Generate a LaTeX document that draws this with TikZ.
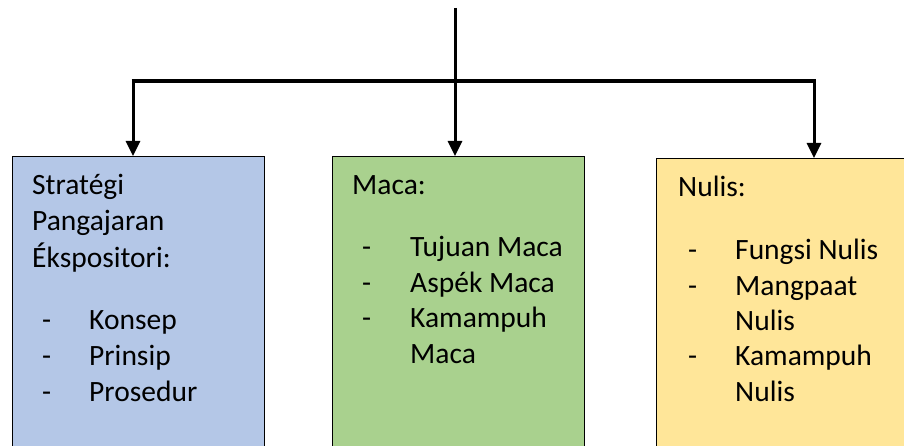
\documentclass[tikz,border=0pt]{standalone}
\usepackage{fontspec}
\setmainfont{Carlito}
\usetikzlibrary{arrows.meta}
\definecolor{boxblue}{HTML}{B4C7E7}
\definecolor{boxgreen}{HTML}{A9D18E}
\definecolor{boxyellow}{HTML}{FFE699}
\begin{document}
\begin{tikzpicture}[x=1pt,y=-1pt,
  box/.style={draw=black,line width=1.3pt,anchor=north west,inner sep=0pt},
  txt/.style={anchor=base west,inner sep=0pt,font=\fontsize{29.5}{35}\selectfont},
  conn/.style={line width=3pt,black},
  arr/.style={conn,-{Triangle[length=15pt,width=14pt]}},
]
\useasboundingbox (0,0) rectangle (904,446);
\fill[white] (0,0) rectangle (904,446);
% boxes
\node[box,fill=boxblue,minimum width=252pt,minimum height=320pt] (b1) at (12,156) {};
\node[box,fill=boxgreen,minimum width=252pt,minimum height=320pt] (b2) at (332,156) {};
\node[box,fill=boxyellow,minimum width=280pt,minimum height=320pt] (b3) at (656,158) {};
% connectors
\coordinate (top) at (455,8);
\coordinate (jm) at (455,81);
\coordinate (jl) at (133,81);
\coordinate (jr) at (814,81);
\draw[conn] (top) -- (jm);
\draw[line width=4pt] ([xshift=-1.5pt]jl) -- ([xshift=1.5pt]jr);
\draw[arr] (jl) -- (jl |- b1.north);
\draw[arr] (jm) -- (jm |- b2.north);
\draw[arr] (jr) -- (jr |- b3.north);
% left text
\node[txt] (l1) at (32,195) {Stratégi};
\node[txt] (l2) at (32,231) {Pangajaran};
\node[txt] (l3) at (32,267) {Ékspositori:};
\node[txt] (l4d) at (42,329) {-};
\node[txt] (l4) at (89,329) {Konsep};
\node[txt] (l5d) at (42,365) {-};
\node[txt] (l5) at (89,365) {Prinsip};
\node[txt] (l6d) at (42,401) {-};
\node[txt] (l6) at (89,401) {Prosedur};
% middle text
\node[txt] (m1) at (352,195) {Maca:};
\node[txt] (m2d) at (362,256) {-};
\node[txt] (m2) at (410,256) {Tujuan Maca};
\node[txt] (m3d) at (362,292) {-};
\node[txt] (m3) at (410,292) {Aspék Maca};
\node[txt] (m4d) at (362,327) {-};
\node[txt] (m4) at (410,327) {Kamampuh};
\node[txt] (m5) at (410,363) {Maca};
% right text
\node[txt] (r1) at (678,197) {Nulis:};
\node[txt] (r2d) at (688,259) {-};
\node[txt] (r2) at (735,259) {Fungsi Nulis};
\node[txt] (r3d) at (688,295) {-};
\node[txt] (r3) at (735,295) {Mangpaat};
\node[txt] (r4) at (735,330) {Nulis};
\node[txt] (r5d) at (688,365) {-};
\node[txt] (r5) at (735,365) {Kamampuh};
\node[txt] (r6) at (735,401) {Nulis};
\end{tikzpicture}
\end{document}
